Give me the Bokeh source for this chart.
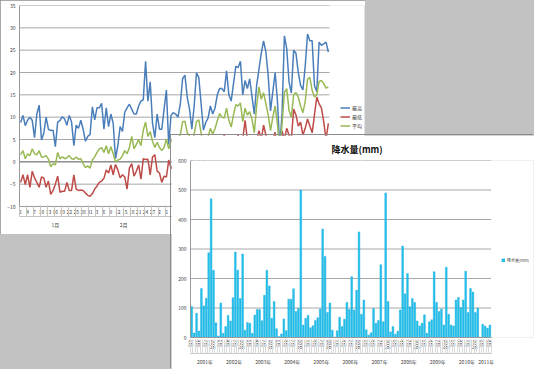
from bokeh.plotting import figure
from bokeh.models import Range1d, FixedTicker, Legend, LegendItem, LinearAxis
from bokeh.layouts import column
from bokeh.embed import file_html
from bokeh.resources import INLINE

FONT = "Noto Sans CJK JP"

# ---------------- chart 1 : daily temperatures ----------------
temp_months = ["1月", "2月", "3月", "4月", "5月"]
temp_month_days = [31, 28, 31, 30, 14]
temp_yticks = [-10, -5, 0, 5, 10, 15, 20, 25, 30, 35]
series_names = ["最高", "最低", "平均"]

high = [8.8, 10.4, 8.1, 9.3, 10.0, 9.3, 5.4, 10.7, 12.7, 4.9,
        6.4, 10.0, 7.3, 7.0, 7.1, 3.4, 8.9, 9.3, 10.1, 9.6,
        8.2, 10.4, 8.9, 3.6, 8.2, 7.5, 9.3, 7.3, 4.6, 5.7,
        6.1, 12.3, 9.4, 12.1, 12.1, 13.1, 7.3, 12.1, 7.9, 10.7,
        8.6, 0.7, 3.6, 7.9, 6.8, 11.1, 12.1, 12.9, 11.8, 10.7,
        10.7, 12.5, 13.6, 13.9, 22.5, 13.6, 17.9, 8.6, 5.4, 10.7,
        7.3, 7.3, 11.8, 16.1, 3.9, 10.4, 11.0, 10.7, 10.0, 12.9,
        18.6, 19.4, 14.5, 11.8, 7.3, 12.5, 19.9, 18.9, 13.0, 7.1,
        8.8, 9.8, 12.5, 10.7, 12.0, 15.0, 16.4, 16.4, 15.7, 20.4,
        15.0, 13.6, 17.5, 21.4, 21.1, 22.5, 15.0, 18.2, 16.4, 18.6,
        14.6, 10.7, 17.1, 20.7, 24.3, 27.1, 24.6, 19.3, 11.4, 15.7,
        20.0, 13.6, 3.0, 11.0, 28.2, 25.4, 17.9, 15.4, 25.0, 24.3,
        20.0, 17.1, 16.1, 21.4, 28.6, 27.1, 27.1, 17.1, 15.7, 26.8,
        26.1, 26.4, 26.8, 24.6]

low = [-4.6, -2.9, -5.1, -2.9, -5.7, -2.1, -3.6, -4.6, -5.7, -3.4,
       -3.6, -5.7, -4.3, -7.3, -6.4, -5.0, -3.2, -6.8, -6.6, -6.6,
       -4.6, -6.4, -6.4, -2.9, -6.1, -6.4, -6.3, -6.4, -7.0, -7.5,
       -7.7, -7.1, -6.1, -5.4, -4.6, -4.3, -3.7, -1.8, -2.5, -0.7,
       -2.9, -0.6, -1.8, -3.6, -2.9, -3.4, -6.1, -1.4, -0.4, -3.2,
       -2.1, -0.7, -3.9, 0.7, 0.5, 0.6, -2.9, 1.1, 1.6, -2.1,
       -2.5, -4.6, -3.2, -3.4, 0.4, -1.5, -0.5, 1.2, -1.0, 2.5,
       3.5, -0.5, 1.0, -2.0, 0.5, 3.0, 4.5, 1.0, -1.5, 0.0,
       2.0, 3.5, 1.5, 3.0, 4.0, 5.0, 3.0, 4.5, 6.0, 3.5,
       2.0, 4.0, 5.5, 4.5, 6.0, 3.0, 5.0, 9.3, 5.0, 4.0,
       5.5, 2.0, 4.5, 7.0, 5.0, 8.2, 6.0, 4.0, 2.5, 5.0,
       6.6, 3.0, 1.0, 6.9, 5.0, 7.5, 6.0, 5.0, 11.8, 10.5,
       8.0, 8.9, 6.0, 7.5, 9.6, 8.0, 6.5, 10.5, 14.5, 13.0,
       12.1, 9.0, 5.0, 8.6]

avg = [1.6, 2.5, 0.7, 1.8, 1.4, 2.9, 1.8, 1.6, 2.5, 1.1,
       1.1, 1.4, 0.6, -1.1, -0.4, -0.7, 2.1, 0.7, 1.1, 0.7,
       0.9, 1.4, 0.7, 0.6, 1.1, 0.6, 0.7, -0.4, -1.3, -0.9,
       -1.4, 0.4, 1.1, 2.1, 2.9, 3.2, 2.1, 3.6, 1.8, 3.4,
       1.8, 0.0, 0.4, 0.6, 1.4, 2.5, 1.8, 3.2, 5.7, 2.9,
       3.9, 5.0, 3.6, 7.1, 8.9, 5.7, 6.8, 4.6, 3.2, 4.4,
       3.2, 2.5, 3.2, 5.1, 2.9, 4.8, 4.5, 5.0, 5.5, 6.0,
       9.0, 9.1, 6.5, 5.8, 3.5, 6.2, 9.0, 9.4, 6.5, 3.0,
       4.2, 5.5, 7.5, 6.2, 7.4, 9.2, 10.8, 10.0, 9.8, 12.0,
       9.3, 7.8, 10.5, 12.8, 12.5, 13.2, 9.0, 12.0, 10.5, 11.2,
       9.5, 6.5, 12.5, 16.8, 14.0, 15.5, 13.0, 10.5, 7.0, 10.0,
       12.5, 8.5, 2.5, 8.5, 15.5, 16.4, 11.5, 10.0, 15.0, 15.5,
       14.5, 12.5, 11.0, 13.5, 18.5, 18.9, 16.0, 14.5, 15.0, 18.0,
       18.2, 17.5, 16.5, 16.8]

# ---------------- chart 2 : monthly precipitation ----------------
rain_title = "降水量(mm)"
rain_years = ["2001年", "2002年", "2003年", "2004年", "2005年", "2006年",
              "2007年", "2008年", "2009年", "2010年", "2011年"]
rain_year_months = [12, 12, 12, 12, 12, 12, 12, 12, 12, 12, 4]
rain_month_labels = ["1月", "4月", "7月", "10月"]
rain_yticks = [0, 100, 200, 300, 400, 500, 600]
rain = [105, 15, 82, 22, 166, 107, 133, 287, 470, 228, 50, 5,
        117, 14, 37, 75, 56, 135, 290, 228, 132, 283, 25, 51,
        48, 14, 76, 95, 95, 57, 143, 228, 175, 65, 122, 30,
        3, 12, 63, 23, 130, 130, 165, 88, 98, 500, 42, 65,
        75, 33, 40, 58, 67, 97, 368, 275, 85, 117, 25, 2,
        23, 69, 37, 62, 119, 95, 206, 93, 160, 358, 79, 127,
        26, 8, 16, 98, 48, 58, 247, 53, 490, 122, 19, 37,
        11, 21, 93, 310, 148, 217, 104, 132, 119, 56, 39, 48,
        77, 14, 53, 60, 223, 119, 88, 97, 42, 238, 79, 42,
        39, 127, 136, 101, 127, 225, 85, 166, 154, 85, 99, 0,
        45, 39, 32, 42]

LABEL_COLOR = "#404040"
GRID_COLOR = "#a8a8a8"
AXIS_COLOR = "#9a9a9a"
SEP_COLOR = "#c4c4c4"


def style_axis(ax, size="5px", standoff=2):
    ax.major_tick_out = 0
    ax.major_tick_in = 0
    ax.minor_tick_out = 0
    ax.minor_tick_in = 0
    ax.major_label_text_font_size = size
    ax.major_label_text_font = FONT
    ax.major_label_text_color = LABEL_COLOR
    ax.major_label_standoff = standoff
    ax.axis_line_color = AXIS_COLOR


# ================= figure 1 =================
n_days = sum(temp_month_days)
days = [d for n in temp_month_days for d in range(1, n + 1)]
W1, H1, L1, R1 = 365, 234, 19, 1
DATA_W1 = 310          # pixels used by the categories; the rest holds the legend
x_end1 = -0.5 + n_days * (W1 - L1 - R1) / DATA_W1
cat_bounds1 = (-0.5, n_days - 0.5)

p1 = figure(width=W1, height=H1, x_range=Range1d(-0.5, x_end1),
            y_range=Range1d(temp_yticks[0], temp_yticks[-1]),
            output_backend="svg", toolbar_location=None,
            min_border_left=L1, min_border_right=R1, min_border_top=5,
            min_border_bottom=28, background_fill_color="white",
            border_fill_color="white", outline_line_color=None)

xa = p1.xaxis[0]
day_ticks = list(range(0, n_days, 3))
xa.ticker = FixedTicker(ticks=day_ticks)
xa.major_label_overrides = {t: str(days[t]) for t in day_ticks}
xa.bounds = cat_bounds1
style_axis(xa, "5px", 3)

month_bounds = [-0.5]
for n in temp_month_days:
    month_bounds.append(month_bounds[-1] + n)
month_centers = [(month_bounds[k] + month_bounds[k + 1]) / 2 for k in range(len(temp_months))]
mon_axis = LinearAxis(ticker=FixedTicker(ticks=month_centers,
                                         minor_ticks=[t - 0.5 for t in range(0, n_days + 1, 3)]),
                      major_label_overrides={c: m for c, m in zip(month_centers, temp_months)},
                      bounds=cat_bounds1)
style_axis(mon_axis, "5px", 4)
mon_axis.minor_tick_in = 11
mon_axis.minor_tick_line_color = SEP_COLOR
mon_axis.axis_line_color = SEP_COLOR
p1.add_layout(mon_axis, "below")

ya = p1.yaxis[0]
ya.ticker = FixedTicker(ticks=temp_yticks)
style_axis(ya, "5px", 4)

p1.xgrid.visible = False
p1.ygrid.visible = False
p1.segment(x0=[cat_bounds1[0]] * len(temp_yticks), x1=[cat_bounds1[1]] * len(temp_yticks),
           y0=temp_yticks, y1=temp_yticks, line_color=GRID_COLOR, line_width=1)
p1.segment(x0=[cat_bounds1[0]], x1=[cat_bounds1[1]], y0=[0], y1=[0],
           line_color="#7a7a7a", line_width=1)

colors = ["#4A7EBB", "#BE4B48", "#98B954"]
renderers = []
for series, col in zip([high, low, avg], colors):
    r = p1.line(x=list(range(len(series))), y=series, line_color=col, line_width=1.5)
    renderers.append(r)

leg1 = Legend(items=[LegendItem(label=nm, renderers=[r]) for nm, r in zip(series_names, renderers)],
              label_text_font_size="5px", label_text_font=FONT, label_text_color=LABEL_COLOR,
              glyph_width=10, glyph_height=7, label_height=7, spacing=2, padding=0, margin=0,
              label_standoff=2, border_line_color=None, background_fill_alpha=0,
              location=(321, 77))
p1.add_layout(leg1)
p1.styles = {"outline": "1px solid #8c8c8c", "outline-offset": "-1px"}

# ================= figure 2 =================
n_months = sum(rain_year_months)
W2, H2, L2, R2 = 363, 234, 18, 1
DATA_W2 = 301.5
x_end2 = -0.5 + n_months * (W2 - L2 - R2) / DATA_W2
cat_bounds2 = (-0.5, n_months - 0.5)

p2 = figure(width=W2, height=H2, x_range=Range1d(-0.5, x_end2),
            y_range=Range1d(rain_yticks[0], rain_yticks[-1]),
            output_backend="svg", toolbar_location=None,
            min_border_left=L2, min_border_right=R2, min_border_top=21,
            min_border_bottom=32, background_fill_color="white",
            border_fill_color="white", outline_line_color=None)
p2.title.text = rain_title
p2.title.align = "left"
p2.title.offset = 141
p2.title.text_font = FONT
p2.title.text_font_size = "9px"
p2.title.text_font_style = "bold"
p2.title.text_color = "#111111"

vb = p2.vbar(x=list(range(len(rain))), top=rain, width=0.72,
             fill_color="#22C1EE", line_color="#14A9D6", line_width=0.4)

year_bounds = [-0.5]
for n in rain_year_months:
    year_bounds.append(year_bounds[-1] + n)
m_ticks, m_labels = [], []
for k, n in enumerate(rain_year_months):
    start = int(year_bounds[k] + 0.5)
    for j, lab in enumerate(rain_month_labels):
        if 3 * j < n:
            m_ticks.append(start + 3 * j)
            m_labels.append(lab)

xb = p2.xaxis[0]
xb.ticker = FixedTicker(ticks=m_ticks)
xb.major_label_overrides = {t: l for t, l in zip(m_ticks, m_labels)}
xb.major_label_orientation = "vertical"
xb.bounds = cat_bounds2
style_axis(xb, "5px", 2)

year_centers = [(year_bounds[k] + year_bounds[k + 1]) / 2 for k in range(len(rain_years))]
yr_axis = LinearAxis(ticker=FixedTicker(ticks=year_centers,
                                        minor_ticks=[i - 0.5 for i in range(n_months + 1)]),
                     major_label_overrides={c: y for c, y in zip(year_centers, rain_years)},
                     bounds=cat_bounds2)
style_axis(yr_axis, "5px", 4)
yr_axis.minor_tick_in = 14
yr_axis.minor_tick_line_color = "#dadada"
yr_axis.axis_line_color = SEP_COLOR
p2.add_layout(yr_axis, "below")

yb = p2.yaxis[0]
yb.ticker = FixedTicker(ticks=rain_yticks)
style_axis(yb, "5px", 4)

p2.xgrid.visible = False
p2.ygrid.visible = False
p2.segment(x0=[cat_bounds2[0]] * len(rain_yticks), x1=[cat_bounds2[1]] * len(rain_yticks),
           y0=rain_yticks, y1=rain_yticks, line_color=GRID_COLOR, line_width=1, level="underlay")

leg2 = Legend(items=[LegendItem(label=rain_title, renderers=[vb])],
              label_text_font_size="4px", label_text_font=FONT, label_text_color=LABEL_COLOR,
              glyph_width=4, glyph_height=4, label_height=5, padding=0, margin=0,
              label_standoff=2, border_line_color=None, background_fill_alpha=0,
              location=(311, 74))
p2.add_layout(leg2)

p2.styles = {"position": "absolute", "left": "171px", "top": "135px",
             "box-shadow": "-1px -1px 0 0 #8c8c8c"}

root = column(p1, p2, width=534, height=369,
              styles={"background-color": "#c2c2c2", "position": "relative"})

open("out.html", "w").write(file_html(root, INLINE))
